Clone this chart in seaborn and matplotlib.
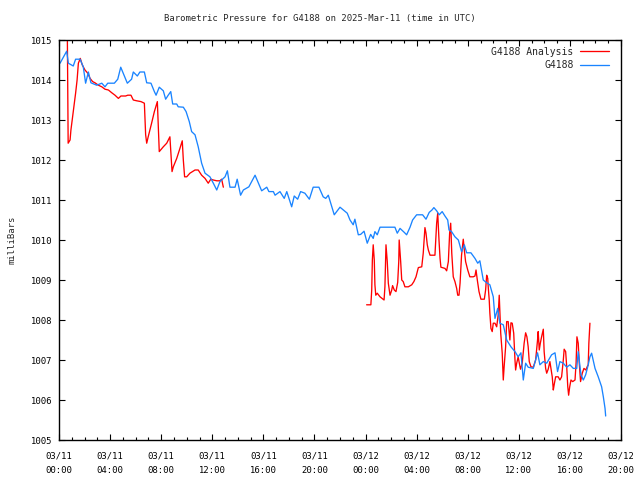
import numpy as np
import pandas as pd
import matplotlib
matplotlib.use("Agg")
import matplotlib.pyplot as plt
import matplotlib.dates as mdates
import seaborn as sns

# ---- data (minutes after 2025-03-11 00:00 UTC, pressure in mb) ----
blue_minutes = [5, 36, 44, 67, 78, 99, 114, 125, 138, 150, 177, 201, 216, 229, 260, 276, 290,
                321, 341, 349, 368, 380, 401, 412, 432, 448, 456, 471, 490, 501, 513, 525, 534,
                553, 560, 584, 597, 612, 623, 639, 654, 670, 686, 709, 725, 741, 756, 780, 791,
                803, 827, 837, 853, 866, 892, 921, 952, 976, 986, 1007, 1015, 1038, 1058, 1070,
                1093, 1105, 1121, 1135, 1155, 1176, 1194, 1221, 1241, 1253, 1265, 1293, 1320,
                1340, 1354, 1367, 1382, 1390, 1406, 1417, 1433, 1448, 1464, 1476, 1484, 1495,
                1508, 1536, 1578, 1589, 1602, 1622, 1633, 1649, 1661, 1680, 1708, 1724, 1739,
                1752, 1761, 1774, 1786, 1800, 1813, 1826, 1832, 1844, 1860, 1876, 1891, 1904,
                1915, 1935, 1954, 1967, 1977, 1993, 2009, 2024, 2040, 2048, 2061, 2071, 2087,
                2103, 2123, 2142, 2157, 2170, 2181, 2192, 2204, 2228, 2239, 2248, 2259, 2275,
                2291, 2302, 2314, 2330, 2342, 2353, 2369, 2385, 2400, 2416, 2432, 2439, 2452,
                2463, 2474, 2486, 2494, 2502, 2518, 2533, 2549, 2557, 2565, 2568]
blue_values = [1014.42, 1014.72, 1014.42, 1014.35, 1014.52, 1014.52, 1014.33, 1013.92, 1014.2,
               1013.93, 1013.87, 1013.92, 1013.83, 1013.92, 1013.92, 1014.02, 1014.32, 1013.92,
               1014.02, 1014.2, 1014.1, 1014.2, 1014.2, 1013.93, 1013.92, 1013.71, 1013.62,
               1013.82, 1013.73, 1013.52, 1013.62, 1013.71, 1013.4, 1013.4, 1013.33, 1013.32,
               1013.21, 1012.96, 1012.71, 1012.63, 1012.33, 1011.92, 1011.67, 1011.58, 1011.42,
               1011.25, 1011.46, 1011.58, 1011.73, 1011.32, 1011.32, 1011.52, 1011.12, 1011.25,
               1011.33, 1011.62, 1011.23, 1011.32, 1011.21, 1011.21, 1011.12, 1011.21, 1011.04,
               1011.21, 1010.83, 1011.1, 1011.02, 1011.21, 1011.17, 1011.02, 1011.32, 1011.32,
               1011.08, 1011.04, 1011.12, 1010.63, 1010.82, 1010.73, 1010.67, 1010.5, 1010.38,
               1010.52, 1010.13, 1010.14, 1010.22, 1009.92, 1010.14, 1010.04, 1010.21, 1010.13,
               1010.32, 1010.32, 1010.32, 1010.17, 1010.29, 1010.19, 1010.13, 1010.32, 1010.5,
               1010.63, 1010.63, 1010.52, 1010.69, 1010.75, 1010.81, 1010.73, 1010.63, 1010.71,
               1010.6, 1010.5, 1010.25, 1010.21, 1010.08, 1010.0, 1009.71, 1009.88, 1009.68,
               1009.68, 1009.54, 1009.42, 1009.48, 1009.0, 1008.93, 1008.88, 1008.58, 1008.04,
               1008.29, 1007.92, 1007.88, 1007.5, 1007.33, 1007.21, 1007.08, 1007.18, 1006.5,
               1006.92, 1006.82, 1006.79, 1007.0, 1007.18, 1006.88, 1006.96, 1006.92, 1007.02,
               1007.13, 1007.18, 1006.71, 1006.96, 1006.92, 1006.82, 1006.88, 1006.79, 1006.79,
               1007.21, 1006.63, 1006.5, 1006.63, 1006.88, 1007.08, 1007.17, 1006.79, 1006.58,
               1006.33, 1006.08, 1005.79, 1005.6]

red1_minutes = [39, 43, 52, 56, 62, 72, 78, 85, 91, 100, 109, 122, 135, 146, 158, 169, 185, 201,
                216, 232, 248, 263, 279, 291, 313, 323, 338, 349, 365, 385, 401, 407, 412, 419,
                435, 448, 462, 471, 490, 506, 521, 531, 537, 553, 568, 579, 584, 590, 600, 615,
                639, 654, 670, 686, 701, 713, 725, 741, 756, 764, 772]
red1_values = [1015.25, 1012.42, 1012.5, 1012.75, 1013.0, 1013.42, 1013.67, 1014.0, 1014.42,
               1014.54, 1014.38, 1014.25, 1014.17, 1014.04, 1013.96, 1013.93, 1013.87, 1013.83,
               1013.77, 1013.75, 1013.68, 1013.62, 1013.54, 1013.6, 1013.6, 1013.62, 1013.62,
               1013.5, 1013.48, 1013.46, 1013.42, 1012.63, 1012.42, 1012.58, 1012.92, 1013.21,
               1013.46, 1012.21, 1012.33, 1012.42, 1012.58, 1011.71, 1011.83, 1012.04, 1012.29,
               1012.48, 1012.0, 1011.58, 1011.58, 1011.67, 1011.75, 1011.75, 1011.62, 1011.54,
               1011.42, 1011.52, 1011.5, 1011.48, 1011.48, 1011.52, 1011.32]

red2_minutes = [1445, 1465, 1469, 1472, 1476, 1481, 1484, 1488, 1495, 1508, 1527, 1531, 1536,
                1542, 1547, 1555, 1563, 1567, 1575, 1583, 1591, 1596, 1598, 1605, 1610, 1617,
                1625, 1641, 1657, 1667, 1677, 1688, 1704, 1711, 1719, 1724, 1730, 1735, 1743,
                1766, 1774, 1779, 1785, 1790, 1794, 1813, 1821, 1829, 1835, 1840, 1845, 1852,
                1860, 1868, 1873, 1879, 1884, 1891, 1899, 1904, 1910, 1920, 1930, 1946, 1954,
                1959, 1965, 1973, 1982, 1998, 2004, 2009, 2014, 2016, 2021, 2024, 2029, 2035,
                2040, 2048, 2056, 2063, 2068, 2075, 2082, 2087, 2091, 2098, 2103, 2110, 2118,
                2123, 2129, 2136, 2142, 2145, 2150, 2157, 2162, 2168, 2176, 2185, 2192, 2198,
                2204, 2209, 2217, 2228, 2239, 2248, 2251, 2256, 2261, 2267, 2275, 2279, 2286,
                2291, 2298, 2306, 2317, 2322, 2326, 2333, 2345, 2353, 2361, 2369, 2373, 2380,
                2385, 2390, 2394, 2399, 2405, 2413, 2424, 2429, 2433, 2439, 2444, 2450, 2458,
                2466, 2475, 2481, 2486, 2489, 2494]
red2_values = [1008.38, 1008.38, 1008.75, 1009.5, 1009.88, 1009.5, 1008.88, 1008.62, 1008.67,
               1008.58, 1008.5, 1008.83, 1009.88, 1009.46, 1008.92, 1008.62, 1008.75, 1008.86,
               1008.75, 1008.71, 1008.94, 1009.46, 1010.0, 1009.46, 1009.0, 1008.96, 1008.83,
               1008.83, 1008.88, 1008.96, 1009.08, 1009.31, 1009.33, 1009.67, 1010.31, 1010.17,
               1009.88, 1009.75, 1009.62, 1009.62, 1010.42, 1010.67, 1010.0, 1009.54, 1009.32,
               1009.29, 1009.23, 1009.46, 1010.17, 1010.42, 1009.67, 1009.08, 1008.96, 1008.79,
               1008.62, 1008.62, 1008.92, 1009.62, 1010.02, 1009.75, 1009.46, 1009.25, 1009.08,
               1009.08, 1009.1, 1009.25, 1009.0, 1008.71, 1008.52, 1008.52, 1008.75, 1009.12,
               1009.04, 1008.85, 1008.5, 1008.17, 1007.79, 1007.71, 1007.92, 1007.92, 1007.83,
               1008.12, 1008.62, 1007.67, 1007.17, 1006.5, 1006.83, 1007.33, 1007.96, 1007.96,
               1007.5, 1007.93, 1007.92, 1007.67, 1007.0, 1006.75, 1006.92, 1007.08, 1006.93,
               1006.77, 1006.92, 1007.42, 1007.68, 1007.58, 1007.33, 1006.96, 1006.83, 1006.82,
               1007.0, 1007.5, 1007.71, 1007.25, 1007.42, 1007.58, 1007.77, 1007.21, 1006.79,
               1006.67, 1006.77, 1006.96, 1006.58, 1006.25, 1006.38, 1006.58, 1006.58, 1006.5,
               1006.58, 1007.0, 1007.27, 1007.21, 1006.83, 1006.33, 1006.12, 1006.33, 1006.5,
               1006.46, 1006.5, 1006.92, 1007.58, 1007.42, 1006.92, 1006.46, 1006.67, 1006.79,
               1006.75, 1006.83, 1006.88, 1007.42, 1007.92]

title = "Barometric Pressure for G4188 on 2025-Mar-11 (time in UTC)"
label_analysis = "G4188 Analysis"
label_station = "G4188"
y_label = "milliBars"
y_ticks = [1005, 1006, 1007, 1008, 1009, 1010, 1011, 1012, 1013, 1014, 1015]
start = pd.Timestamp("2025-03-11 00:00")
end = pd.Timestamp("2025-03-12 20:00")

# ---- build frames ----
def frame(mins, vals):
    return pd.DataFrame({"time": start + pd.to_timedelta(mins, unit="m"), "mb": vals})

blue_df = frame(blue_minutes, blue_values)
red1_df = frame(red1_minutes, red1_values)
red2_df = frame(red2_minutes, red2_values)

sns.set_style("ticks")
plt.rcParams["font.family"] = ["DejaVu Sans Mono"]
FS = 6.4

fig = plt.figure(figsize=(6.4, 4.8), dpi=100)
ax = fig.add_axes([59 / 640, 40 / 480, 562 / 640, 400 / 480])

RED = "#ff0000"
BLUE = "#1a84ff"
LW = 0.95

sns.lineplot(data=red1_df, x="time", y="mb", ax=ax, color=RED, lw=LW,
             estimator=None, sort=False, label=label_analysis)
sns.lineplot(data=red2_df, x="time", y="mb", ax=ax, color=RED, lw=LW,
             estimator=None, sort=False, legend=False)
sns.lineplot(data=blue_df, x="time", y="mb", ax=ax, color=BLUE, lw=LW,
             estimator=None, sort=False, label=label_station)

ax.set_xlim(start, end)
ax.set_ylim(1005, 1015)
ax.set_yticks(y_ticks)
ax.set_yticklabels([str(t) for t in y_ticks])

ax.xaxis.set_major_locator(mdates.HourLocator(byhour=range(0, 24, 4)))
ax.xaxis.set_minor_locator(mdates.HourLocator())
ax.xaxis.set_major_formatter(mdates.DateFormatter("%m/%d\n%H:%M"))

ax.tick_params(axis="both", which="both", direction="in", top=True, right=True,
               labelsize=FS, colors="black", width=0.8)
ax.tick_params(axis="both", which="major", length=4)
ax.tick_params(axis="x", which="minor", length=2)
ax.tick_params(axis="x", which="major", pad=8.5)
ax.tick_params(axis="y", which="major", pad=5)
for lbl in ax.get_xticklabels():
    lbl.set_linespacing(1.8)

for sp in ax.spines.values():
    sp.set_color("black")
    sp.set_linewidth(1.0)

ax.set_xlabel("")
ax.set_ylabel(y_label, fontsize=FS, labelpad=10)
fig.text(0.5, 1 - 18 / 480, title, fontsize=FS, ha="center", va="center")

leg = ax.legend(loc="upper right", frameon=False, markerfirst=False, fontsize=7,
                handlelength=2.9, handletextpad=0.7, labelspacing=0.35,
                borderaxespad=0.3, bbox_to_anchor=(0.99, 1.0))

fig.savefig("out.png", dpi=100)
